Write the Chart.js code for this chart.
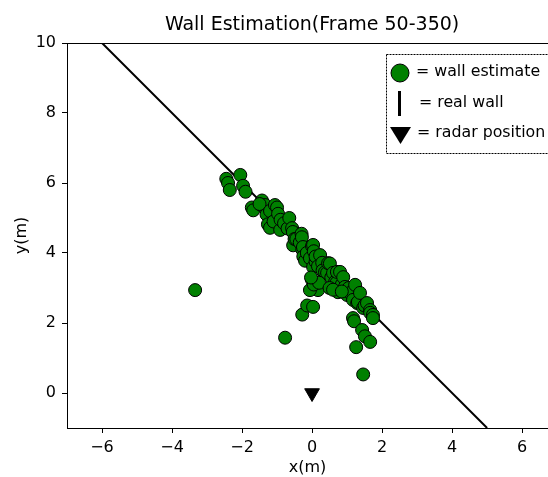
<!DOCTYPE html>
<html>
<head>
<meta charset="UTF-8">
<title>Wall Estimation</title>
<script src="https://cdn.jsdelivr.net/npm/chart.js"></script>
<style>
  html, body { margin: 0; padding: 0; background: #fff; overflow: hidden; }
  #wrap { width: 548px; height: 477px; }
</style>
</head>
<body>
<div id="wrap"><canvas id="wallChart"></canvas></div>
<script>
// estimated wall points (x, y in metres)
const estX = [-2.45, -2.40, -2.35, -2.05, -1.97, -1.90, -1.72, -1.68, -1.43, -1.40, -1.34, -1.30, -1.26, -1.20,
  -1.50, -1.20, -1.10, -1.06, -1.00, -0.97, -0.91, -0.90, -0.80, -0.70, -0.65, -0.57, -0.55, -0.54, -0.50,
  -0.45, -0.35, -0.30, -0.29, -0.28, -0.26, -0.25, -0.20, -0.15, -0.06, 0.00, 0.03, 0.05, 0.03, 0.10, 0.10,
  0.17, 0.23, 0.29, 0.30, 0.37, 0.43, 0.46, 0.51, 0.55, 0.60, 0.66, 0.70, 0.71, 0.80, 0.85, 0.89, 0.94,
  1.05, 0.74, 1.00, 1.09, 1.17, 1.23, 1.29, 1.31, 1.37, 1.46, 1.50, 1.57, 1.66, 1.66, 1.74, 1.74,
  0.00, 0.03, 0.17, -0.06, 0.05, 0.20, -0.03, 0.50, 0.60, 0.85,
  1.17, 1.20, 1.43, 1.51, 1.66, 1.26, 1.46,
  -3.34, -0.77, -0.28, -0.14, 0.03];
const estY = [6.12, 6.00, 5.80, 6.23, 5.92, 5.75, 5.30, 5.22, 5.50, 5.33, 5.37, 5.10, 4.82, 4.72,
  5.40, 5.20, 4.90, 5.37, 5.30, 5.12, 4.66, 4.95, 4.85, 4.70, 5.00, 4.71, 4.60, 4.22, 4.40,
  4.40, 4.30, 4.55, 4.45, 4.10, 4.17, 3.90, 3.78, 4.00, 3.85, 4.20, 4.23, 4.05, 3.60, 3.75, 3.90,
  3.62, 3.94, 3.72, 3.50, 3.45, 3.43, 3.71, 3.70, 3.30, 3.43, 3.18, 3.15, 3.46, 3.46, 3.10, 3.31, 3.03,
  3.00, 2.88, 2.80, 2.86, 2.66, 3.09, 2.57, 2.60, 2.86, 2.43, 2.50, 2.57, 2.37, 2.29, 2.23, 2.14,
  3.23, 3.03, 2.94, 2.94, 3.10, 3.15, 3.30, 3.00, 2.95, 2.90,
  2.14, 2.05, 1.80, 1.62, 1.46, 1.31, 0.53,
  2.94, 1.58, 2.24, 2.50, 2.46];

// real wall (line ends) and radar position
const wallX = [-6, 5];
const wallY = [10, -1];
const radarX = [0];
const radarY = [0];

const xTicks = [-6, -4, -2, 0, 2, 4, 6];
const yTicks = [0, 2, 4, 6, 8, 10];

const toPts = (xs, ys) => xs.map((x, i) => ({ x: x, y: ys[i] }));
const FONT = '"DejaVu Sans", sans-serif';
const minus = v => String(v).replace('-', '\u2212');

// title + top spine + legend, drawn like matplotlib
const extras = {
  id: 'extras',
  afterDraw(chart) {
    const ctx = chart.ctx;
    const area = chart.chartArea;
    const xs = chart.scales.x;
    const axRight = xs.getPixelForValue(7);
    ctx.save();
    // top spine
    ctx.strokeStyle = '#000';
    ctx.lineWidth = 1;
    ctx.beginPath();
    ctx.moveTo(area.left, area.top + 0.5);
    ctx.lineTo(axRight, area.top + 0.5);
    ctx.stroke();
    // title
    ctx.fillStyle = '#000';
    ctx.font = '19px ' + FONT;
    ctx.textAlign = 'center';
    ctx.textBaseline = 'middle';
    ctx.fillText('Wall Estimation(Frame 50-350)', (area.left + axRight) / 2, 25);
    // legend box
    ctx.fillStyle = '#fff';
    ctx.fillRect(386, 54, 166, 99);
    ctx.setLineDash([2, 1]);
    ctx.strokeStyle = '#000';
    ctx.strokeRect(386.5, 54.5, 166, 99);
    ctx.setLineDash([]);
    // circle
    ctx.beginPath();
    ctx.arc(400, 73, 9, 0, Math.PI * 2);
    ctx.fillStyle = 'green';
    ctx.fill();
    ctx.stroke();
    // bar
    ctx.fillStyle = '#000';
    ctx.fillRect(398, 91, 3, 25);
    // triangle down
    ctx.beginPath();
    ctx.moveTo(390, 127);
    ctx.lineTo(411, 127);
    ctx.lineTo(400.5, 144);
    ctx.closePath();
    ctx.fill();
    // labels
    ctx.font = '15.8px ' + FONT;
    ctx.textAlign = 'left';
    ctx.fillText('= wall estimate', 416, 72);
    ctx.fillText('= real wall', 419, 103);
    ctx.fillText('= radar position', 417, 133);
    ctx.restore();
  }
};

new Chart(document.getElementById('wallChart'), {
  type: 'scatter',
  data: {
    datasets: [
      {
        label: 'wall estimate',
        data: toPts(estX, estY),
        backgroundColor: 'green',
        borderColor: '#000',
        borderWidth: 1,
        pointRadius: 6.5,
        pointHoverRadius: 6.5
      },
      {
        label: 'real wall',
        data: toPts(wallX, wallY),
        showLine: true,
        borderColor: '#000',
        borderWidth: 2,
        pointRadius: 0,
        fill: false
      },
      {
        label: 'radar position',
        data: toPts(radarX, radarY),
        pointStyle: 'triangle',
        rotation: 180,
        backgroundColor: '#000',
        borderColor: '#000',
        pointRadius: 8.5,
        pointHoverRadius: 8.5
      }
    ]
  },
  options: {
    responsive: true,
    maintainAspectRatio: false,
    animation: false,
    layout: { autoPadding: false, padding: { top: 43, left: 0, right: 0, bottom: 0 } },
    plugins: {
      legend: { display: false },
      title: { display: false },
      tooltip: { enabled: false }
    },
    scales: {
      x: {
        type: 'linear',
        min: -7,
        max: 6.74,
        afterBuildTicks: s => { s.ticks = xTicks.map(v => ({ value: v })); },
        afterFit: s => { s.height = 49; s.paddingLeft = 0; s.paddingRight = 0; },
        border: { color: '#000', width: 1 },
        grid: { drawOnChartArea: false, tickLength: 5, tickColor: '#000' },
        ticks: { color: '#000', font: { family: FONT, size: 16 }, padding: 5, maxRotation: 0, callback: v => minus(v) },
        title: { display: true, text: 'x(m)', color: '#000', font: { family: FONT, size: 16 }, padding: { top: 0, bottom: 0 } }
      },
      y: {
        type: 'linear',
        min: -1,
        max: 10,
        afterBuildTicks: s => { s.ticks = yTicks.map(v => ({ value: v })); },
        afterFit: s => { s.width = 67; s.paddingTop = 0; s.paddingBottom = 0; },
        border: { color: '#000', width: 1 },
        grid: { drawOnChartArea: false, tickLength: 5, tickColor: '#000' },
        ticks: { color: '#000', font: { family: FONT, size: 16 }, padding: 6, callback: v => minus(v) },
        title: { display: true, text: 'y(m)', color: '#000', font: { family: FONT, size: 16 }, padding: { top: 12, bottom: 0 } }
      }
    }
  },
  plugins: [extras]
});
</script>
</body>
</html>
